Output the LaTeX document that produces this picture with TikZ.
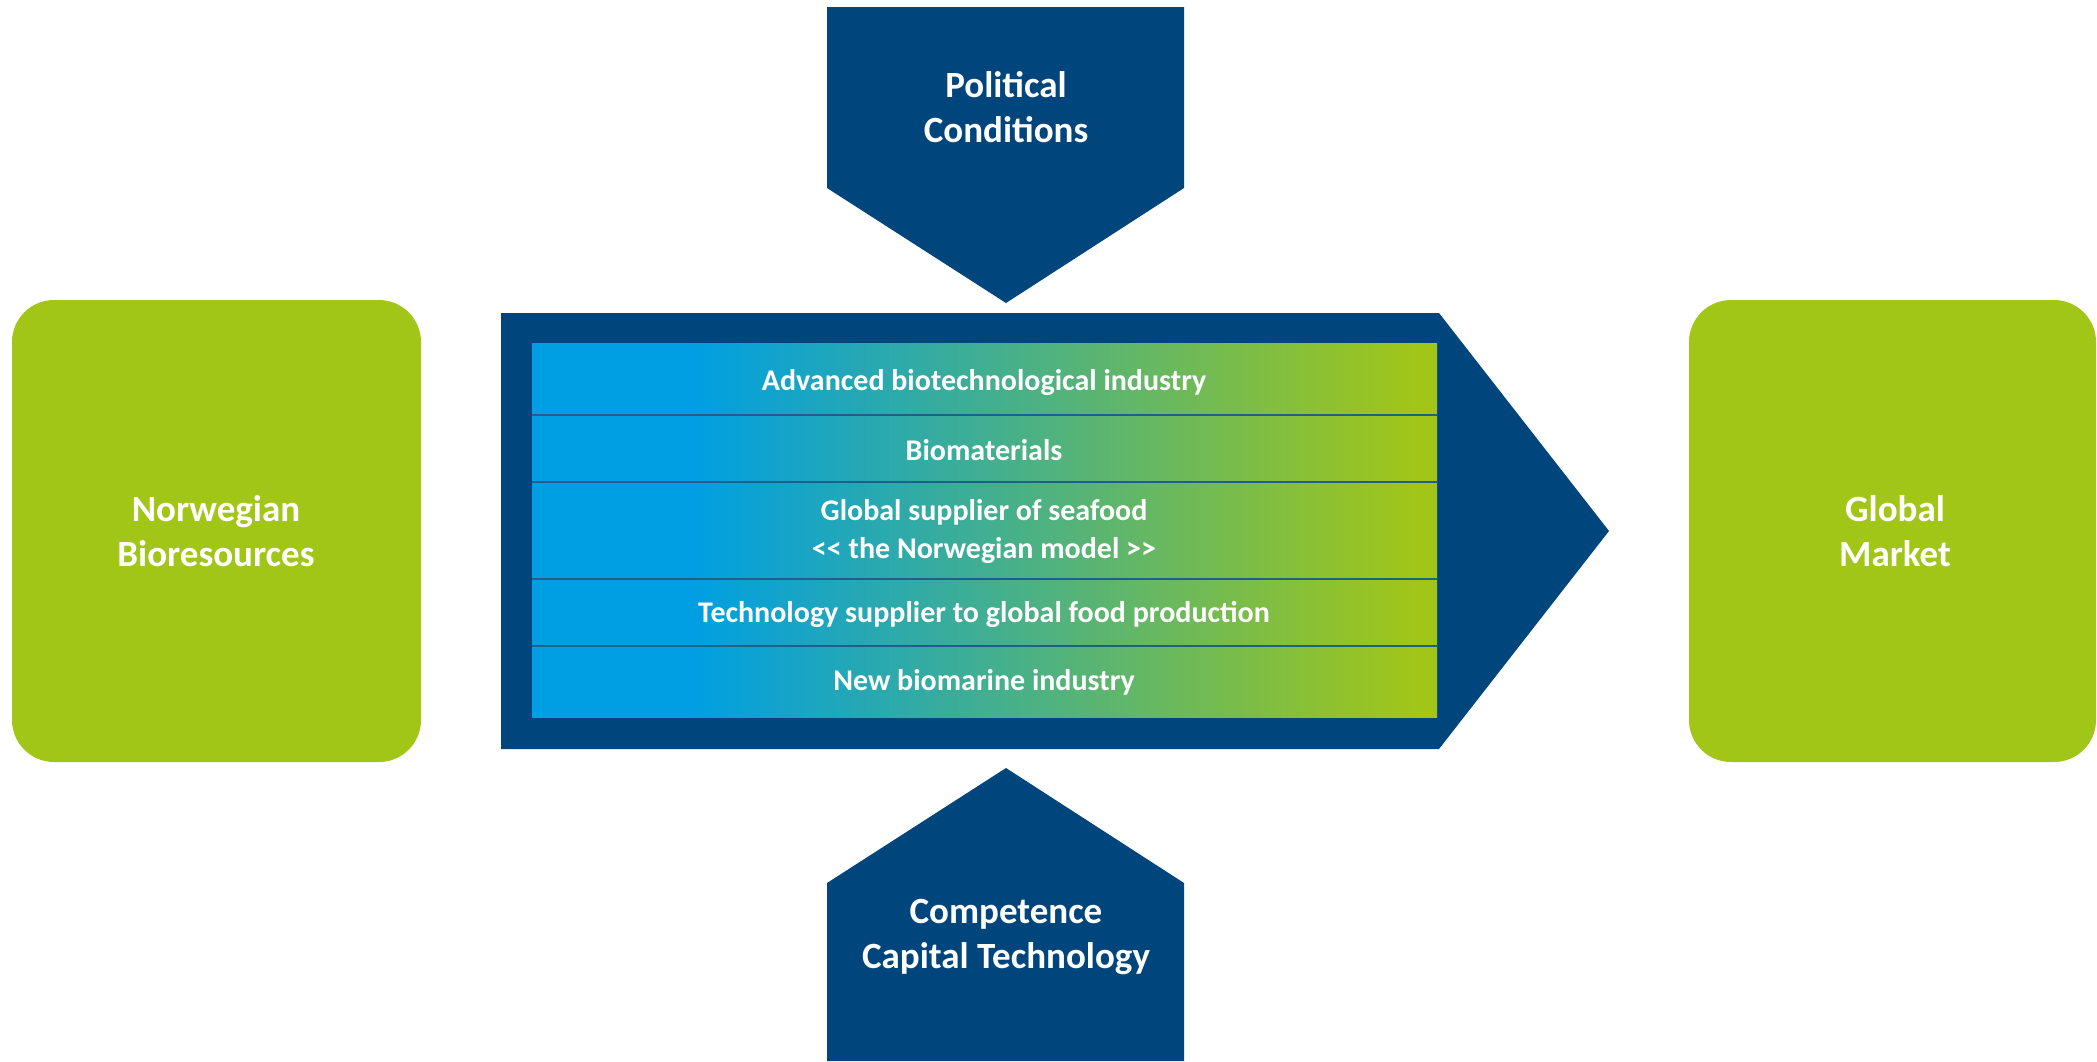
\documentclass[tikz,border=0pt]{standalone}
\usepackage{fontspec}
\setmainfont{Carlito}
\definecolor{navy}{HTML}{00457C}
\definecolor{lime}{HTML}{A2C617}
\definecolor{sky}{HTML}{009FE3}
\definecolor{sepline}{HTML}{1F5F8B}
\pgfdeclarehorizontalshading{rowshade}{100bp}{color(0bp)=(sky); color(34bp)=(sky); color(74bp)=(lime); color(100bp)=(lime)}
\tikzset{
  biglabel/.style={text=white, font=\fontsize{37}{45}\selectfont\bfseries, align=center},
  rowlabel/.style={text=white, font=\fontsize{30}{38}\selectfont\bfseries, align=center},
  greenbox/.style={fill=lime, rounded corners=42pt},
  navyshape/.style={fill=navy},
  sepstyle/.style={draw=sepline, line width=2pt}
}
\begin{document}
\begin{tikzpicture}[x=1pt, y=-1pt]
\useasboundingbox (0,0) rectangle (2097,1061);
% side boxes
\fill[greenbox] (12,300) rectangle (421,762);
\fill[greenbox] (1689,300) rectangle (2096,762);
\node[biglabel] (bio) at (216,531) {Norwegian\\Bioresources};
\node[biglabel] (mkt) at (1895,531) {Global\\Market};
% top pentagon
\fill[navyshape] (827,7) -- (1184,7) -- (1184,188) -- (1006,303) -- (827,188) -- cycle;
\node[biglabel] (pol) at (1006,107) {Political\\Conditions};
% bottom pentagon
\fill[navyshape] (827,1061) -- (827,883) -- (1006,768) -- (1184,883) -- (1184,1061) -- cycle;
\node[biglabel] (comp) at (1006,937) {Competence\\Capital Technology};
% central arrow
\fill[navyshape] (501,313) -- (1439,313) -- (1609,531) -- (1439,749) -- (501,749) -- cycle;
\shade[shading=rowshade] (532,343) rectangle (1437,717);
\foreach \yy in {415,482,579,646}
  \draw[sepstyle] (532,\yy) -- (1437,\yy);
\node[rowlabel] (r1) at (984,383) {Advanced biotechnological industry};
\node[rowlabel] (r2) at (984,450) {Biomaterials};
\node[rowlabel] (r3) at (984,532) {Global supplier of seafood\\<\kern0pt< the Norwegian model >\kern0pt>};
\node[rowlabel] (r4) at (984,614) {Technology supplier to global food production};
\node[rowlabel] (r5) at (984,682) {New biomarine industry};
\end{tikzpicture}
\end{document}
